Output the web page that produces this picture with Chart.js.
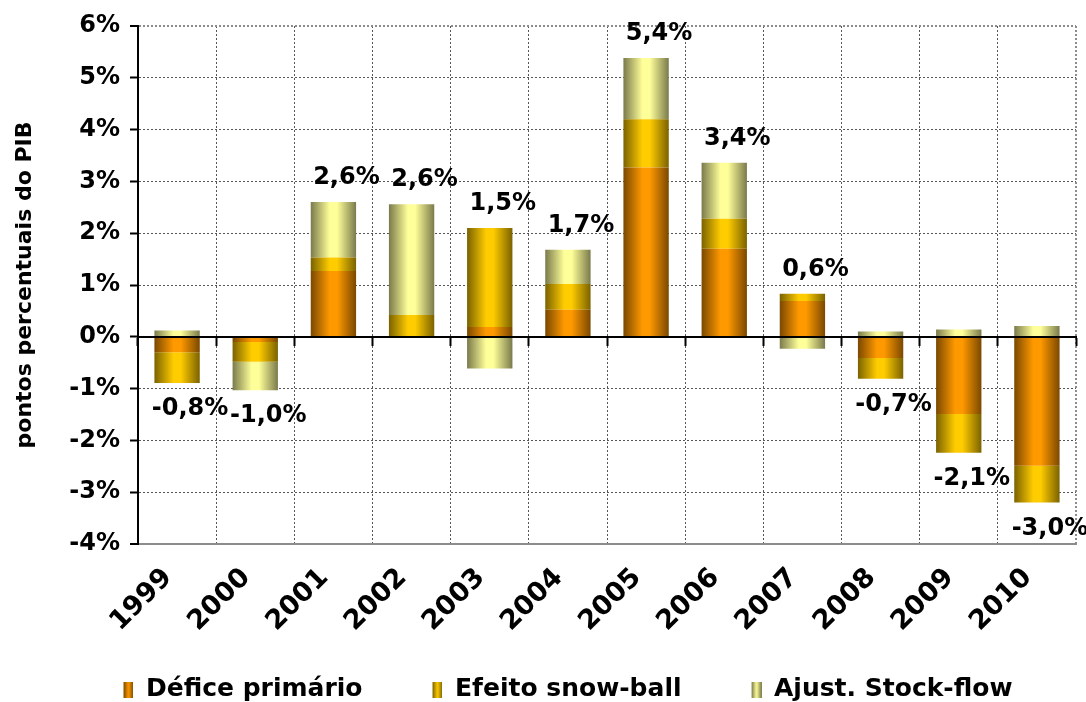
<!DOCTYPE html>
<html>
<head>
<meta charset="utf-8">
<script src="https://cdn.jsdelivr.net/npm/chart.js@4.4.1/dist/chart.umd.min.js"></script>
<style>
  body { margin: 0; background: #fff; }
  #wrap { width: 1086px; height: 702px; position: relative; }
</style>
</head>
<body>
<div id="wrap"><canvas id="decomp"></canvas></div>
<script>
// anos
var years = ['1999', '2000', '2001', '2002', '2003', '2004', '2005', '2006', '2007', '2008', '2009', '2010'];
// contributos em pontos percentuais do PIB
var deficePrimario = [-0.30, -0.10, 1.27, 0.00, 0.19, 0.52, 3.27, 1.70, 0.69, -0.41, -1.49, -2.49];
var efeitoSnowball = [-0.59, -0.38, 0.26, 0.42, 1.91, 0.50, 0.93, 0.58, 0.14, -0.40, -0.75, -0.71];
var ajustStockFlow = [0.12, -0.55, 1.07, 2.14, -0.61, 0.66, 1.18, 1.08, -0.23, 0.10, 0.14, 0.21];
var yMin = -4, yMax = 6;

Chart.defaults.font.family = "'DejaVu Sans', Verdana, sans-serif";
Chart.defaults.font.weight = 'bold';
Chart.defaults.font.size = 24;
Chart.defaults.color = '#000';

var BAR_PCT = 0.58;

// gradiente horizontal tipo "cilindro" para cada barra
function cylinder(dark, light) {
    return function(ctx) {
        var xs = ctx.chart.scales.x;
        if (ctx.type !== 'data' || !xs) return light;
        var cx = xs.getPixelForValue(ctx.dataIndex);
        var w = xs.width / years.length * BAR_PCT;
        if (!isFinite(cx) || !isFinite(w) || w <= 0) return light;
        var g = ctx.chart.ctx.createLinearGradient(cx - w / 2, 0, cx + w / 2, 0);
        g.addColorStop(0, dark);
        g.addColorStop(0.42, light);
        g.addColorStop(0.58, light);
        g.addColorStop(1, dark);
        return g;
    };
}

function swatch(dark, light) {
    var c = document.createElement('canvas');
    c.width = 70; c.height = 16;
    var g = c.getContext('2d');
    var grad = g.createLinearGradient(60, 0, 70, 0);
    grad.addColorStop(0, dark);
    grad.addColorStop(0.5, light);
    grad.addColorStop(1, dark);
    g.fillStyle = grad;
    g.fillRect(60, 0, 10, 16);
    return c;
}

var colors = [
    ['#7a4800', '#ff9900'],
    ['#7a6200', '#ffcc00'],
    ['#7a7a4c', '#ffff99']
];
var swatches = colors.map(function(c) { return swatch(c[0], c[1]); });

// rótulos com o total de cada ano
var totalLabels = {
    id: 'totalLabels',
    afterDatasetsDraw: function(chart) {
        var ctx = chart.ctx;
        var xs = chart.scales.x, ys = chart.scales.y;
        ctx.save();
        ctx.font = "bold 24px 'DejaVu Sans', Verdana, sans-serif";
        ctx.fillStyle = '#000';
        ctx.textAlign = 'center';
        ctx.textBaseline = 'middle';
        for (var i = 0; i < years.length; i++) {
            var pos = 0, neg = 0;
            chart.data.datasets.forEach(function(ds) {
                var v = ds.data[i];
                if (v >= 0) pos += v; else neg += v;
            });
            var total = pos + neg;
            var x = xs.getPixelForValue(i) + 13;
            var y = total >= 0 ? ys.getPixelForValue(pos) - 24 : ys.getPixelForValue(neg) + 26;
            ctx.fillText(total.toFixed(1).replace('.', ',') + '%', x, y);
        }
        ctx.restore();
    }
};

var dashGrid = '#555';

new Chart(document.getElementById('decomp'), {
    type: 'bar',
    data: {
        labels: years,
        datasets: [
            { label: 'Défice primário', data: deficePrimario, backgroundColor: cylinder(colors[0][0], colors[0][1]), xAxisID: 'x', yAxisID: 'y' },
            { label: 'Efeito snow-ball', data: efeitoSnowball, backgroundColor: cylinder(colors[1][0], colors[1][1]), xAxisID: 'x', yAxisID: 'y' },
            { label: 'Ajust. Stock-flow', data: ajustStockFlow, backgroundColor: cylinder(colors[2][0], colors[2][1]), xAxisID: 'x', yAxisID: 'y' }
        ]
    },
    options: {
        responsive: true,
        maintainAspectRatio: false,
        animation: false,
        categoryPercentage: 1,
        barPercentage: BAR_PCT,
        layout: { padding: { top: 26, right: 10, left: 0, bottom: -10 } },
        plugins: {
            tooltip: { enabled: false },
            legend: {
                position: 'bottom',
                labels: {
                    usePointStyle: true,
                    pointStyleWidth: 70,
                    padding: 10,
                    font: { size: 25, weight: 'bold' },
                    generateLabels: function(chart) {
                        return Chart.defaults.plugins.legend.labels.generateLabels(chart).map(function(item, i) {
                            item.pointStyle = swatches[i];
                            return item;
                        });
                    }
                }
            }
        },
        scales: {
            x: {
                stacked: true,
                offset: true,
                grid: {
                    offset: true,
                    drawTicks: false,
                    color: function(c) { return c.type === 'tick' ? dashGrid : '#8c8c8c'; },
                    lineWidth: function(c) { return c.type === 'tick' ? 1 : 2; }
                },
                border: { color: '#8c8c8c', width: 2, dash: [2, 2] },
                ticks: { minRotation: 45, maxRotation: 45, padding: 18, labelOffset: -9, autoSkip: false, font: { size: 27, weight: 'bold' } },
                afterFit: function(s) { s.height = 123; }
            },
            x2: {
                type: 'category',
                position: { y: 0 },
                offset: true,
                grid: { offset: true, drawOnChartArea: false, tickLength: 8, tickColor: '#000', tickWidth: 2 },
                ticks: { display: false },
                border: { color: '#000', width: 2, z: 1 }
            },
            y: {
                stacked: true,
                min: yMin,
                max: yMax,
                ticks: {
                    stepSize: 1,
                    padding: 10,
                    callback: function(v) { return v + '%'; }
                },
                grid: {
                    color: function(c) { return (c.tick && (c.tick.value === yMax || c.tick.value === yMin)) ? '#8c8c8c' : dashGrid; },
                    lineWidth: function(c) { return (c.tick && (c.tick.value === yMax || c.tick.value === yMin)) ? 2 : 1; },
                    tickLength: 8,
                    tickColor: '#000',
                    tickWidth: 2
                },
                border: { color: '#000', width: 2, dash: [2, 2] },
                title: {
                    display: true,
                    text: 'pontos percentuais do PIB',
                    font: { size: 22, weight: 'bold' },
                    padding: { top: 12, bottom: 0 }
                },
                afterFit: function(s) { s.width = 138; }
            }
        }
    },
    plugins: [totalLabels]
});
</script>
</body>
</html>
